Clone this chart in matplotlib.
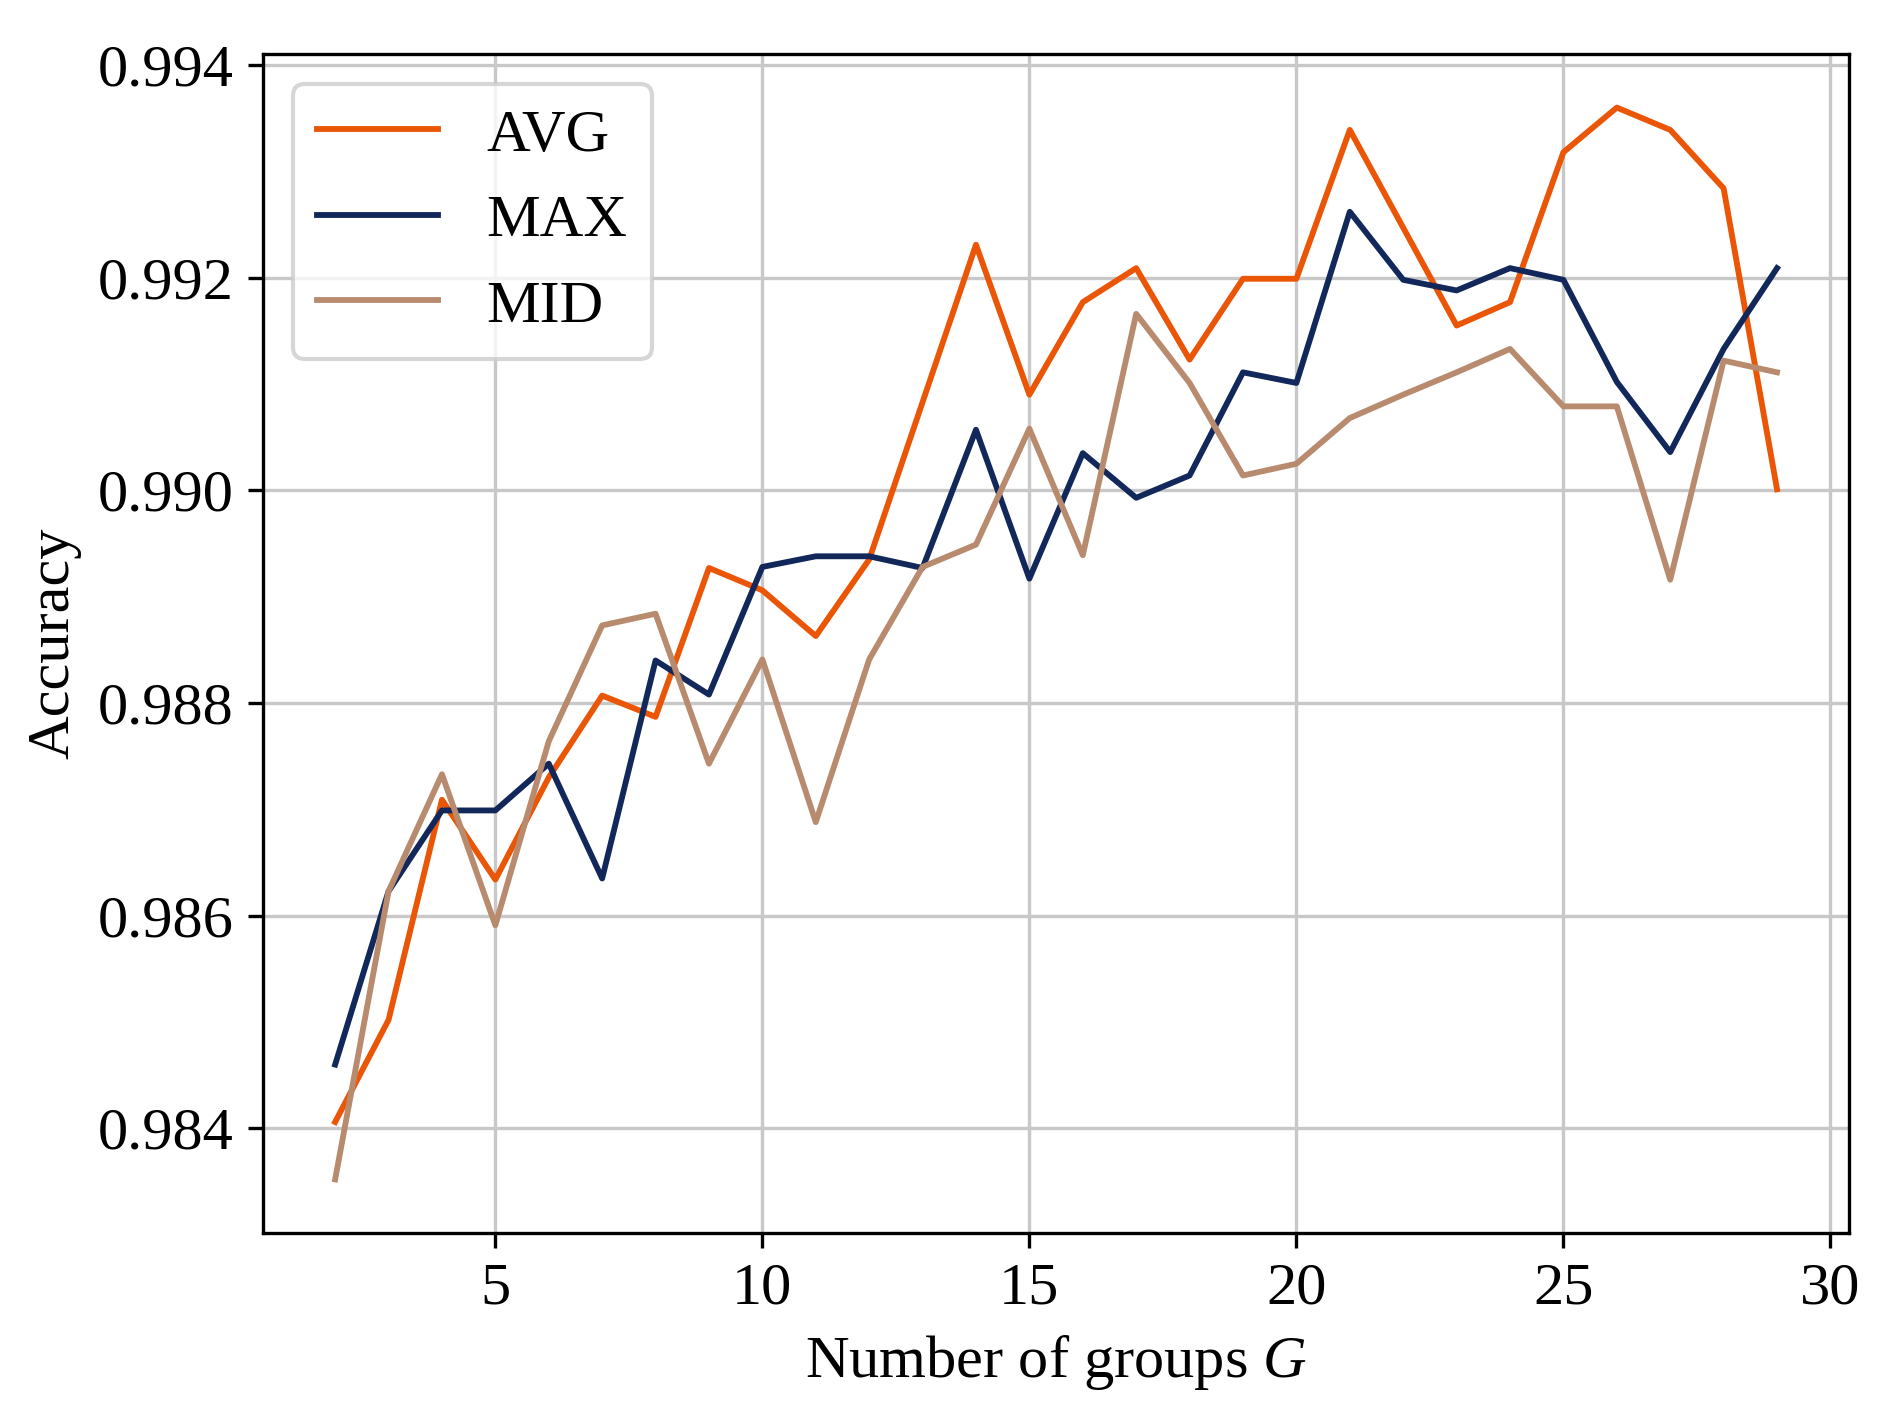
import matplotlib
matplotlib.use("Agg")
import matplotlib.pyplot as plt

plt.rcParams['font.family'] = ['Liberation Serif', 'DejaVu Serif']
plt.rcParams['font.size'] = 14.5
plt.rcParams['mathtext.fontset'] = 'custom'
plt.rcParams['mathtext.rm'] = 'Liberation Serif'
plt.rcParams['mathtext.it'] = 'Liberation Serif:italic'

groups = list(range(2, 30))

acc_avg = [0.98406, 0.98502, 0.98709, 0.98634, 0.98730, 0.98807, 0.98787,
           0.98927, 0.98906, 0.98863, 0.98935, 0.99083, 0.99231, 0.99090,
           0.99177, 0.99209, 0.99123, 0.99199, 0.99199, 0.99339, 0.99247,
           0.99155, 0.99177, 0.99318, 0.99360, 0.99339, 0.99284, 0.99001]

acc_max = [0.98460, 0.98623, 0.98699, 0.98699, 0.98743, 0.98635, 0.98840,
           0.98808, 0.98928, 0.98938, 0.98938, 0.98927, 0.99057, 0.98917,
           0.99035, 0.98993, 0.99014, 0.99111, 0.99101, 0.99262, 0.99198,
           0.99188, 0.99209, 0.99198, 0.99102, 0.99036, 0.99133, 0.99209]

acc_mid = [0.98352, 0.98623, 0.98733, 0.98591, 0.98764, 0.98873, 0.98884,
           0.98743, 0.98841, 0.98688, 0.98841, 0.98928, 0.98949, 0.99058,
           0.98939, 0.99166, 0.99101, 0.99014, 0.99025, 0.99068, 0.99090,
           0.99111, 0.99133, 0.99079, 0.99079, 0.98916, 0.99122, 0.99111]

fig = plt.figure(figsize=(1902 / 300, 1409 / 300), dpi=300)
ax = fig.add_subplot(111)
fig.subplots_adjust(left=0.1383, right=0.9722, bottom=0.1249, top=0.9617)

ax.plot(groups, acc_avg, color="#EA5506", lw=1.4, label="AVG")
ax.plot(groups, acc_max, color="#12285B", lw=1.4, label="MAX")
ax.plot(groups, acc_mid, color="#B88A6E", lw=1.4, label="MID")

ax.set_yticks([0.984, 0.986, 0.988, 0.990, 0.992, 0.994])
ax.set_xticks([5, 10, 15, 20, 25, 30])
ax.grid(color="#c8c8c8", lw=0.8)
ax.set_axisbelow(True)

ax.set_xlabel("Number of groups $G$")
ax.set_ylabel("Accuracy")
ax.legend(loc="upper left")

fig.savefig("out.png", dpi=300)
